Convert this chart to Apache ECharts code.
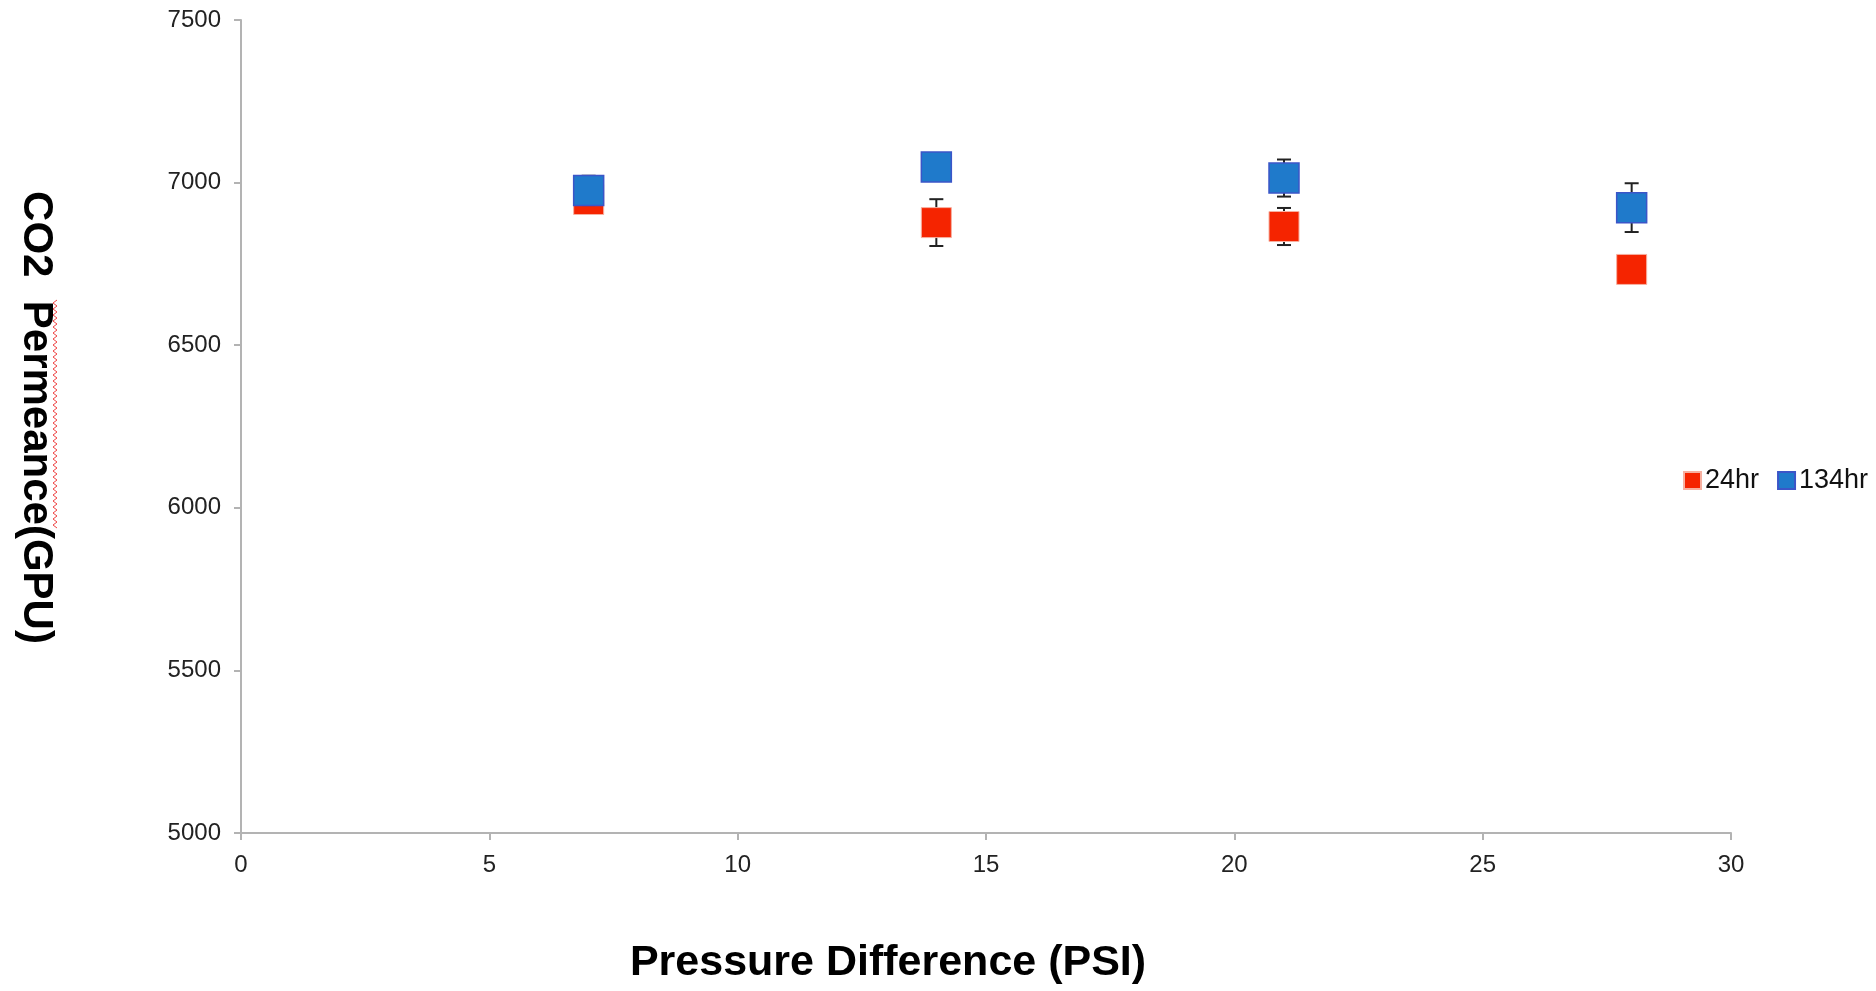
<!DOCTYPE html>
<html>
<head>
<meta charset="utf-8">
<script src="https://cdn.jsdelivr.net/npm/echarts@6/dist/echarts.min.js"></script>
<style>
  html, body { margin: 0; padding: 0; background: #fff; }
  #chart { width: 1876px; height: 991px; }
</style>
</head>
<body>
<div id="chart"></div>
<script>
const pressure = [7, 14, 21, 28]
const perm24 = [6948, 6877, 6865, 6733]
const err24 = [30, 72, 57, 35]
const perm134 = [6976, 7048, 7014, 6923]
const err134 = [45, 30, 57, 75]
const xTicks = { min: 0, max: 30, interval: 5 }
const yTicks = { min: 5000, max: 7500, interval: 500 }

const font = '"Liberation Sans", Arial, Helvetica, sans-serif'
const red = '#f52400'
const blue = '#1f7acb'

const points = (vals) => pressure.map((x, i) => [x, vals[i]])
const ranges = (vals, errs) => pressure.map((x, i) => [x, vals[i] - errs[i], vals[i] + errs[i]])

const errorItem = (params, api) => {
  const x = api.value(0)
  const top = api.coord([x, api.value(2)])
  const bot = api.coord([x, api.value(1)])
  const half = 7
  const style = { stroke: '#222', lineWidth: 2 }
  return {
    type: 'group',
    children: [
      { type: 'line', shape: { x1: top[0], y1: top[1], x2: bot[0], y2: bot[1] }, style },
      { type: 'line', shape: { x1: top[0] - half, y1: top[1], x2: top[0] + half, y2: top[1] }, style },
      { type: 'line', shape: { x1: bot[0] - half, y1: bot[1], x2: bot[0] + half, y2: bot[1] }, style },
    ],
  }
}

// red spell-check squiggle under "Permeance"
const squiggle = []
for (let y = 300, k = 0; y <= 528; y += 3, k++) squiggle.push([k % 2 ? 53 : 57, y])

const chart = echarts.init(document.getElementById('chart'))
const option = {
  animation: false,
  grid: { left: 241, right: 145, top: 20, bottom: 158 },
  legend: {
    data: ['24hr', '134hr'],
    orient: 'horizontal',
    left: 1683,
    top: 467,
    width: 260,
    padding: 0,
    icon: 'rect',
    itemWidth: 17,
    itemHeight: 17,
    itemGap: 18,
    textStyle: { fontFamily: font, fontSize: 27, color: '#111', padding: [0, 0, 0, -1] },
  },
  xAxis: {
    type: 'value',
    ...xTicks,
    name: 'Pressure Difference (PSI)',
    nameLocation: 'middle',
    nameGap: 109,
    nameTextStyle: { fontFamily: font, fontSize: 43, fontWeight: 'bold', color: '#000', padding: [0, 196, 0, 0] },
    axisLine: { lineStyle: { color: '#b3b3b3', width: 2 } },
    axisTick: { show: true, length: 7, lineStyle: { color: '#b3b3b3', width: 2 } },
    axisLabel: { fontFamily: font, fontSize: 24, color: '#222', margin: 20 },
    splitLine: { show: false },
  },
  yAxis: {
    type: 'value',
    ...yTicks,
    name: 'CO2  Permeance(GPU)',
    nameLocation: 'middle',
    nameRotate: -90,
    nameGap: 184,
    nameTextStyle: { fontFamily: font, fontSize: 42, fontWeight: 'bold', color: '#000', padding: [0, 18, 0, 0] },
    axisLine: { show: true, lineStyle: { color: '#b3b3b3', width: 2 } },
    axisTick: { show: true, length: 7, lineStyle: { color: '#b3b3b3', width: 2 } },
    axisLabel: { fontFamily: font, fontSize: 24, color: '#222', margin: 20, formatter: (v) => String(v) },
    splitLine: { show: false },
  },
  series: [
    { type: 'custom', name: 'err24', renderItem: errorItem, data: ranges(perm24, err24), z: 2 },
    {
      type: 'scatter', name: '24hr', data: points(perm24), symbol: 'rect', symbolSize: 30, z: 3,
      itemStyle: { color: red, borderColor: '#f7b0a0', borderWidth: 1, opacity: 1 },
    },
    { type: 'custom', name: 'err134', renderItem: errorItem, data: ranges(perm134, err134), z: 4 },
    {
      type: 'scatter', name: '134hr', data: points(perm134), symbol: 'rect', symbolSize: 30, z: 5,
      itemStyle: { color: blue, borderColor: '#3b55c8', borderWidth: 1.5, opacity: 1 },
    },
  ],
  graphic: [
    { type: 'polyline', shape: { points: squiggle }, style: { stroke: '#ee4444', lineWidth: 1, fill: null }, silent: true },
  ],
}
chart.setOption(option)
</script>
</body>
</html>
